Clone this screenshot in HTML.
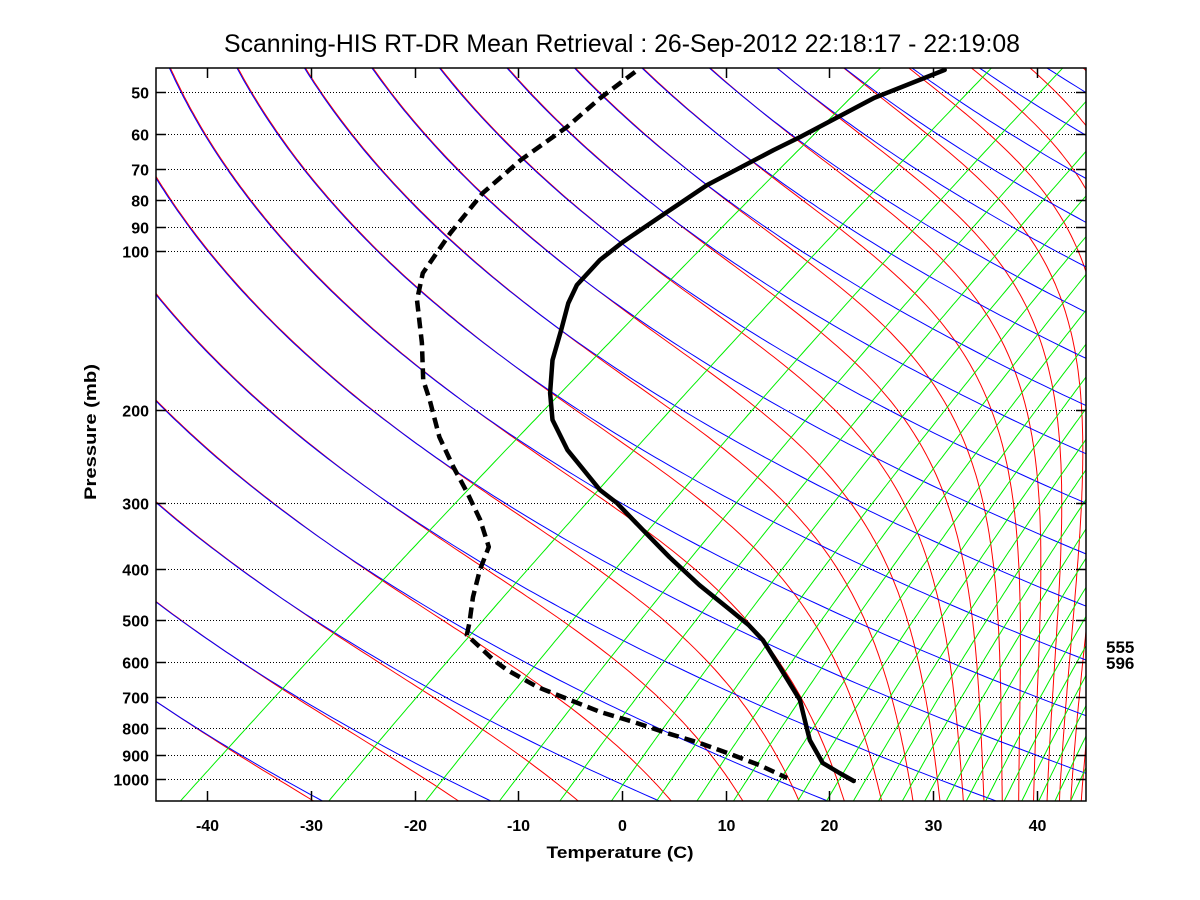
<!DOCTYPE html>
<html>
<head>
<meta charset="utf-8">
<style>
  html,body{margin:0;padding:0;background:#fff;}
  #wrap{width:1200px;height:900px;position:relative;overflow:hidden;}
  svg text{font-family:"Liberation Sans",Arial,sans-serif;}
</style>
</head>
<body>
<div id="wrap">
<svg id="chart" width="1200" height="900" viewBox="0 0 1200 900" xmlns="http://www.w3.org/2000/svg">
  <defs>
    <clipPath id="plotclip"><rect x="156" y="68" width="930" height="733"/></clipPath>
  </defs>
  <rect x="0" y="0" width="1200" height="900" fill="#fff"/>
  <text x="622" y="52" font-size="25" text-anchor="middle" textLength="796" lengthAdjust="spacingAndGlyphs">Scanning-HIS RT-DR Mean Retrieval : 26-Sep-2012 22:18:17 - 22:19:08</text>
  <g id="guides" clip-path="url(#plotclip)">
    <g id="moistg"></g>
    <g id="dryg" transform="translate(-1,0)"></g>
    <g id="mixg"></g>
  </g>
  <g id="grid"></g>
  <g id="profiles" clip-path="url(#plotclip)"></g>
  <rect x="156" y="68" width="930" height="733" fill="none" stroke="#000" stroke-width="1.5"/>
  <g id="axes"></g>
  <text x="620" y="858" font-size="17" font-weight="bold" text-anchor="middle" textLength="147" lengthAdjust="spacingAndGlyphs">Temperature (C)</text>
  <text transform="translate(96,432) rotate(-90)" font-size="17" font-weight="bold" text-anchor="middle" textLength="136" lengthAdjust="spacingAndGlyphs">Pressure (mb)</text>
  <text x="1106" y="653" font-size="17" font-weight="bold">555</text>
  <text x="1106" y="669" font-size="17" font-weight="bold">596</text>
</svg>
</div>
<script>
// ---- data ----
const pressureLevels = [50,60,70,80,90,100,200,300,400,500,600,700,800,900,1000];
const pressureLabels = ["50","60","70","80","90","100","200","300","400","500","600","700","800","900","1000"];
const tempTicks = [-40,-30,-20,-10,0,10,20,30,40];
const tempTickLabels = ["-40","-30","-20","-10","0","10","20","30","40"];

// Temperature profile (pressure mb, temperature C)
const tempP = [45.4,51.3,60.8,64.4,75.0,84.4,96.2,104.0,116.0,125.5,141.3,160.9,185.7,208.9,238.1,283.6,300.1,337.7,379.8,429.2,478.5,510.9,545.5,613.6,708.7,797.0,843.9,932.6,974.2,1008.8];
const tempT = [-60.1,-63.3,-65.4,-66.3,-68.2,-68.6,-69.0,-68.9,-67.9,-66.4,-63.6,-60.6,-56.6,-52.9,-47.6,-39.3,-36.0,-30.0,-24.0,-17.5,-11.3,-7.6,-4.3,0.8,7.0,11.1,13.1,17.3,20.2,22.6];

// Dew point profile (pressure mb, dew point C)
const dewP = [45.8,51.3,58.2,67.3,77.7,92.4,110.1,123.8,149.3,175.5,191.5,225.1,256.5,287.3,323.1,363.5,401.8,451.9,506.2,533.6,562.3,595.1,621.7,669.4,746.6,780.0,818.4,854.9,900.7,941.7,995.7];
const dewT = [-89.7,-89.7,-89.2,-89.4,-88.8,-86.8,-84.3,-81.4,-75.4,-70.5,-67.3,-61.6,-56.4,-51.7,-47.0,-42.7,-40.6,-37.8,-34.8,-33.5,-30.7,-27.7,-25.1,-20.0,-10.7,-6.2,-1.6,2.9,7.6,11.5,15.8];

// Guide-line families (reference lines)
const thetaStart = 240.5, thetaStep = 15.8;
const mixCoef = 0.11;

// ---- axes functions ----
const SKEW = 29.5;
function xOf(T, p){ return 622 + 10.37*(T + SKEW*Math.log(1000/p)); }
function yOf(p){ return 779 + 528*Math.log10(p/1000); }

const NS = "http://www.w3.org/2000/svg";
function mk(tag, attrs, parent){
  const e = document.createElementNS(NS, tag);
  for (const k in attrs) e.setAttribute(k, attrs[k]);
  parent.appendChild(e);
  return e;
}
const pSamples = [];
for (let i=0;i<=220;i++){ pSamples.push(40*Math.pow(1120/40, i/220)); }

function es(Tc){ return 6.112*Math.exp(17.67*Tc/(Tc+243.5)); }
function ptsToStr(arr){ return arr.map(a=>a[0].toFixed(1)+","+a[1].toFixed(1)).join(" "); }

const dryg = document.getElementById("dryg");
const moistg = document.getElementById("moistg");
const mixg = document.getElementById("mixg");

// dry adiabats (blue)
for (let k=-12;k<=40;k++){
  const th = thetaStart + thetaStep*k;
  const pts = pSamples.map(p=>{ const T = th*Math.pow(p/1000,0.286)-273.15; return [xOf(T,p), yOf(p)]; });
  const pl = mk("polyline",{points:ptsToStr(pts),fill:"none",stroke:"#0000ff","stroke-width":"1"},dryg);
  
  
}

// moist adiabats (red)
function thetaE(TK,p){
  const Tc = TK-273.15;
  const e = es(Tc);
  if (e >= 0.95*p) return 1e9;
  const ws = 0.622*e/(p-e);
  return TK*Math.pow(1000/p,0.286)*Math.exp(2.5e6*ws/(1005*TK));
}
for (let k=-12;k<=40;k++){
  const target = thetaStart + thetaStep*k;
  const pts = [];
  for (const p of pSamples){
    let lo=100, hi=340;
    if (thetaE(lo,p)>target || thetaE(hi,p)<target) continue;
    for (let it=0;it<50;it++){ const m=(lo+hi)/2; if (thetaE(m,p)<target) lo=m; else hi=m; }
    pts.push([xOf(lo-273.15,p), yOf(p)]);
  }
  if (pts.length<2) continue;
  const pl = mk("polyline",{points:ptsToStr(pts),fill:"none",stroke:"#ff0000","stroke-width":"1"},moistg);
  
  
}

// mixing ratio lines (green)
for (let n=1;n<=30;n++){
  const w = mixCoef*n*n;
  const pts = pSamples.map(p=>{
    const e = w*p/(622+w);
    const a = Math.log(e/6.112);
    const Td = 243.5*a/(17.67-a);
    return [xOf(Td,p), yOf(p)];
  });
  const pl = mk("polyline",{points:ptsToStr(pts),fill:"none",stroke:"#00ee00","stroke-width":"1"},mixg);
  
  
}

// gridlines and axes
const grid = document.getElementById("grid");
const axes = document.getElementById("axes");
pressureLevels.forEach((p,i)=>{
  const y = Math.round(yOf(p))+0.5;
  const gl = mk("line",{x1:156,x2:1086,y1:y,y2:y,stroke:"#000","stroke-width":"1","stroke-dasharray":"1 2"},grid);
  
  
  const t1 = mk("line",{x1:156,x2:166,y1:y,y2:y,stroke:"#000","stroke-width":"1.5"},axes);
  
  
  const t2 = mk("line",{x1:1076,x2:1086,y1:y,y2:y,stroke:"#000","stroke-width":"1.5"},axes);
  
  
  const lb = mk("text",{x:149,y:y+6,"font-size":"16","font-weight":"bold","text-anchor":"end"},axes);
  lb.textContent = pressureLabels[i];
  
  
});
tempTicks.forEach((T,i)=>{
  const x = Math.round(622+10.37*T)+0.5;
  const b = mk("line",{x1:x,x2:x,y1:791,y2:801,stroke:"#000","stroke-width":"1.5"},axes);
  
  
  const t = mk("line",{x1:x,x2:x,y1:68,y2:78,stroke:"#000","stroke-width":"1.5"},axes);
  
  
  const lb = mk("text",{x:x,y:831,"font-size":"16","font-weight":"bold","text-anchor":"middle"},axes);
  lb.textContent = tempTickLabels[i];
  
  
});

// profiles
const prof = document.getElementById("profiles");
const tPts = tempP.map((p,i)=>[xOf(tempT[i],p), yOf(p)]);
const tl = mk("polyline",{points:ptsToStr(tPts),fill:"none",stroke:"#000","stroke-width":"4.5","stroke-linejoin":"round","stroke-linecap":"round"},prof);


const dPts = dewP.map((p,i)=>[xOf(dewT[i],p), yOf(p)]);
const dl = mk("polyline",{points:ptsToStr(dPts),fill:"none",stroke:"#000","stroke-width":"4.5","stroke-dasharray":"11 6","stroke-linejoin":"round"},prof);


</script>
</body>
</html>
